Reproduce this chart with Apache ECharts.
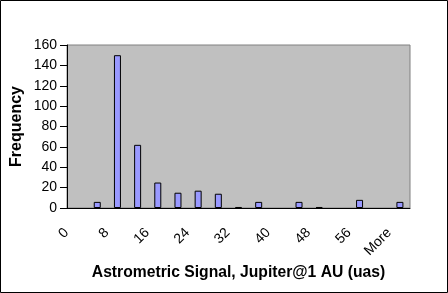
<!DOCTYPE html>
<html><head><meta charset="utf-8">
<script src="https://cdn.jsdelivr.net/npm/echarts@6/dist/echarts.min.js"></script>
<style>html,body{margin:0;padding:0;background:#fff}#c{width:448px;height:293px}</style>
</head><body><div id="c"></div>
<script>
const categories = ['0','4','8','12','16','20','24','28','32','36','40','44','48','52','56','60','More'];
const frequency = [0,6,150,62,25,15,17,14,1,6,0,6,1,0,8,0,6];
const yTicks = {min:0, max:160, interval:20};
const xTitle = 'Astrometric Signal, Jupiter@1 AU (uas)';
const yTitle = 'Frequency';

const font = 'Liberation Sans, Arial, sans-serif';
const chart = echarts.init(document.getElementById('c'), null, {renderer:'canvas'});
chart.setOption({
  animation:false,
  backgroundColor:'#ffffff',
  grid:{left:67,right:38,top:45,bottom:85,show:true,backgroundColor:'#C0C0C0',borderColor:'#808080',borderWidth:1},
  xAxis:{
    type:'category', data:categories, boundaryGap:true,
    axisLine:{lineStyle:{color:'#000',width:1}},
    axisTick:{interval:0,length:6,lineStyle:{color:'#000'}},
    axisLabel:{interval:1,rotate:45,margin:12,color:'#000',fontFamily:font,fontSize:14,padding:[0,15,0,0]},
    name:xTitle, nameLocation:'middle', nameGap:57,
    nameTextStyle:{fontFamily:font,fontSize:15.7,fontWeight:'bold',color:'#000'}
  },
  yAxis:{
    type:'value', min:yTicks.min, max:yTicks.max, interval:yTicks.interval,
    splitLine:{show:false},
    axisLine:{show:true,lineStyle:{color:'#000',width:1}},
    axisTick:{show:true,length:7,lineStyle:{color:'#000'}},
    axisLabel:{margin:10,color:'#000',fontFamily:font,fontSize:14},
    name:yTitle, nameLocation:'middle', nameGap:42, nameMoveOverlap:false,
    nameTextStyle:{fontFamily:font,fontSize:16,fontWeight:'bold',color:'#000'}
  },
  series:[{
    type:'bar', barWidth:7,
    data:frequency.map(v => ({value:v, itemStyle:{borderWidth: v === 0 ? 0 : 1}})),
    itemStyle:{color:'#9999FF',borderColor:'#000',borderWidth:1}
  }],
  graphic:[{type:'rect',shape:{x:0.5,y:0.5,width:447,height:292},style:{fill:null,stroke:'#000',lineWidth:1},silent:true,z:100}]
});
</script></body></html>
